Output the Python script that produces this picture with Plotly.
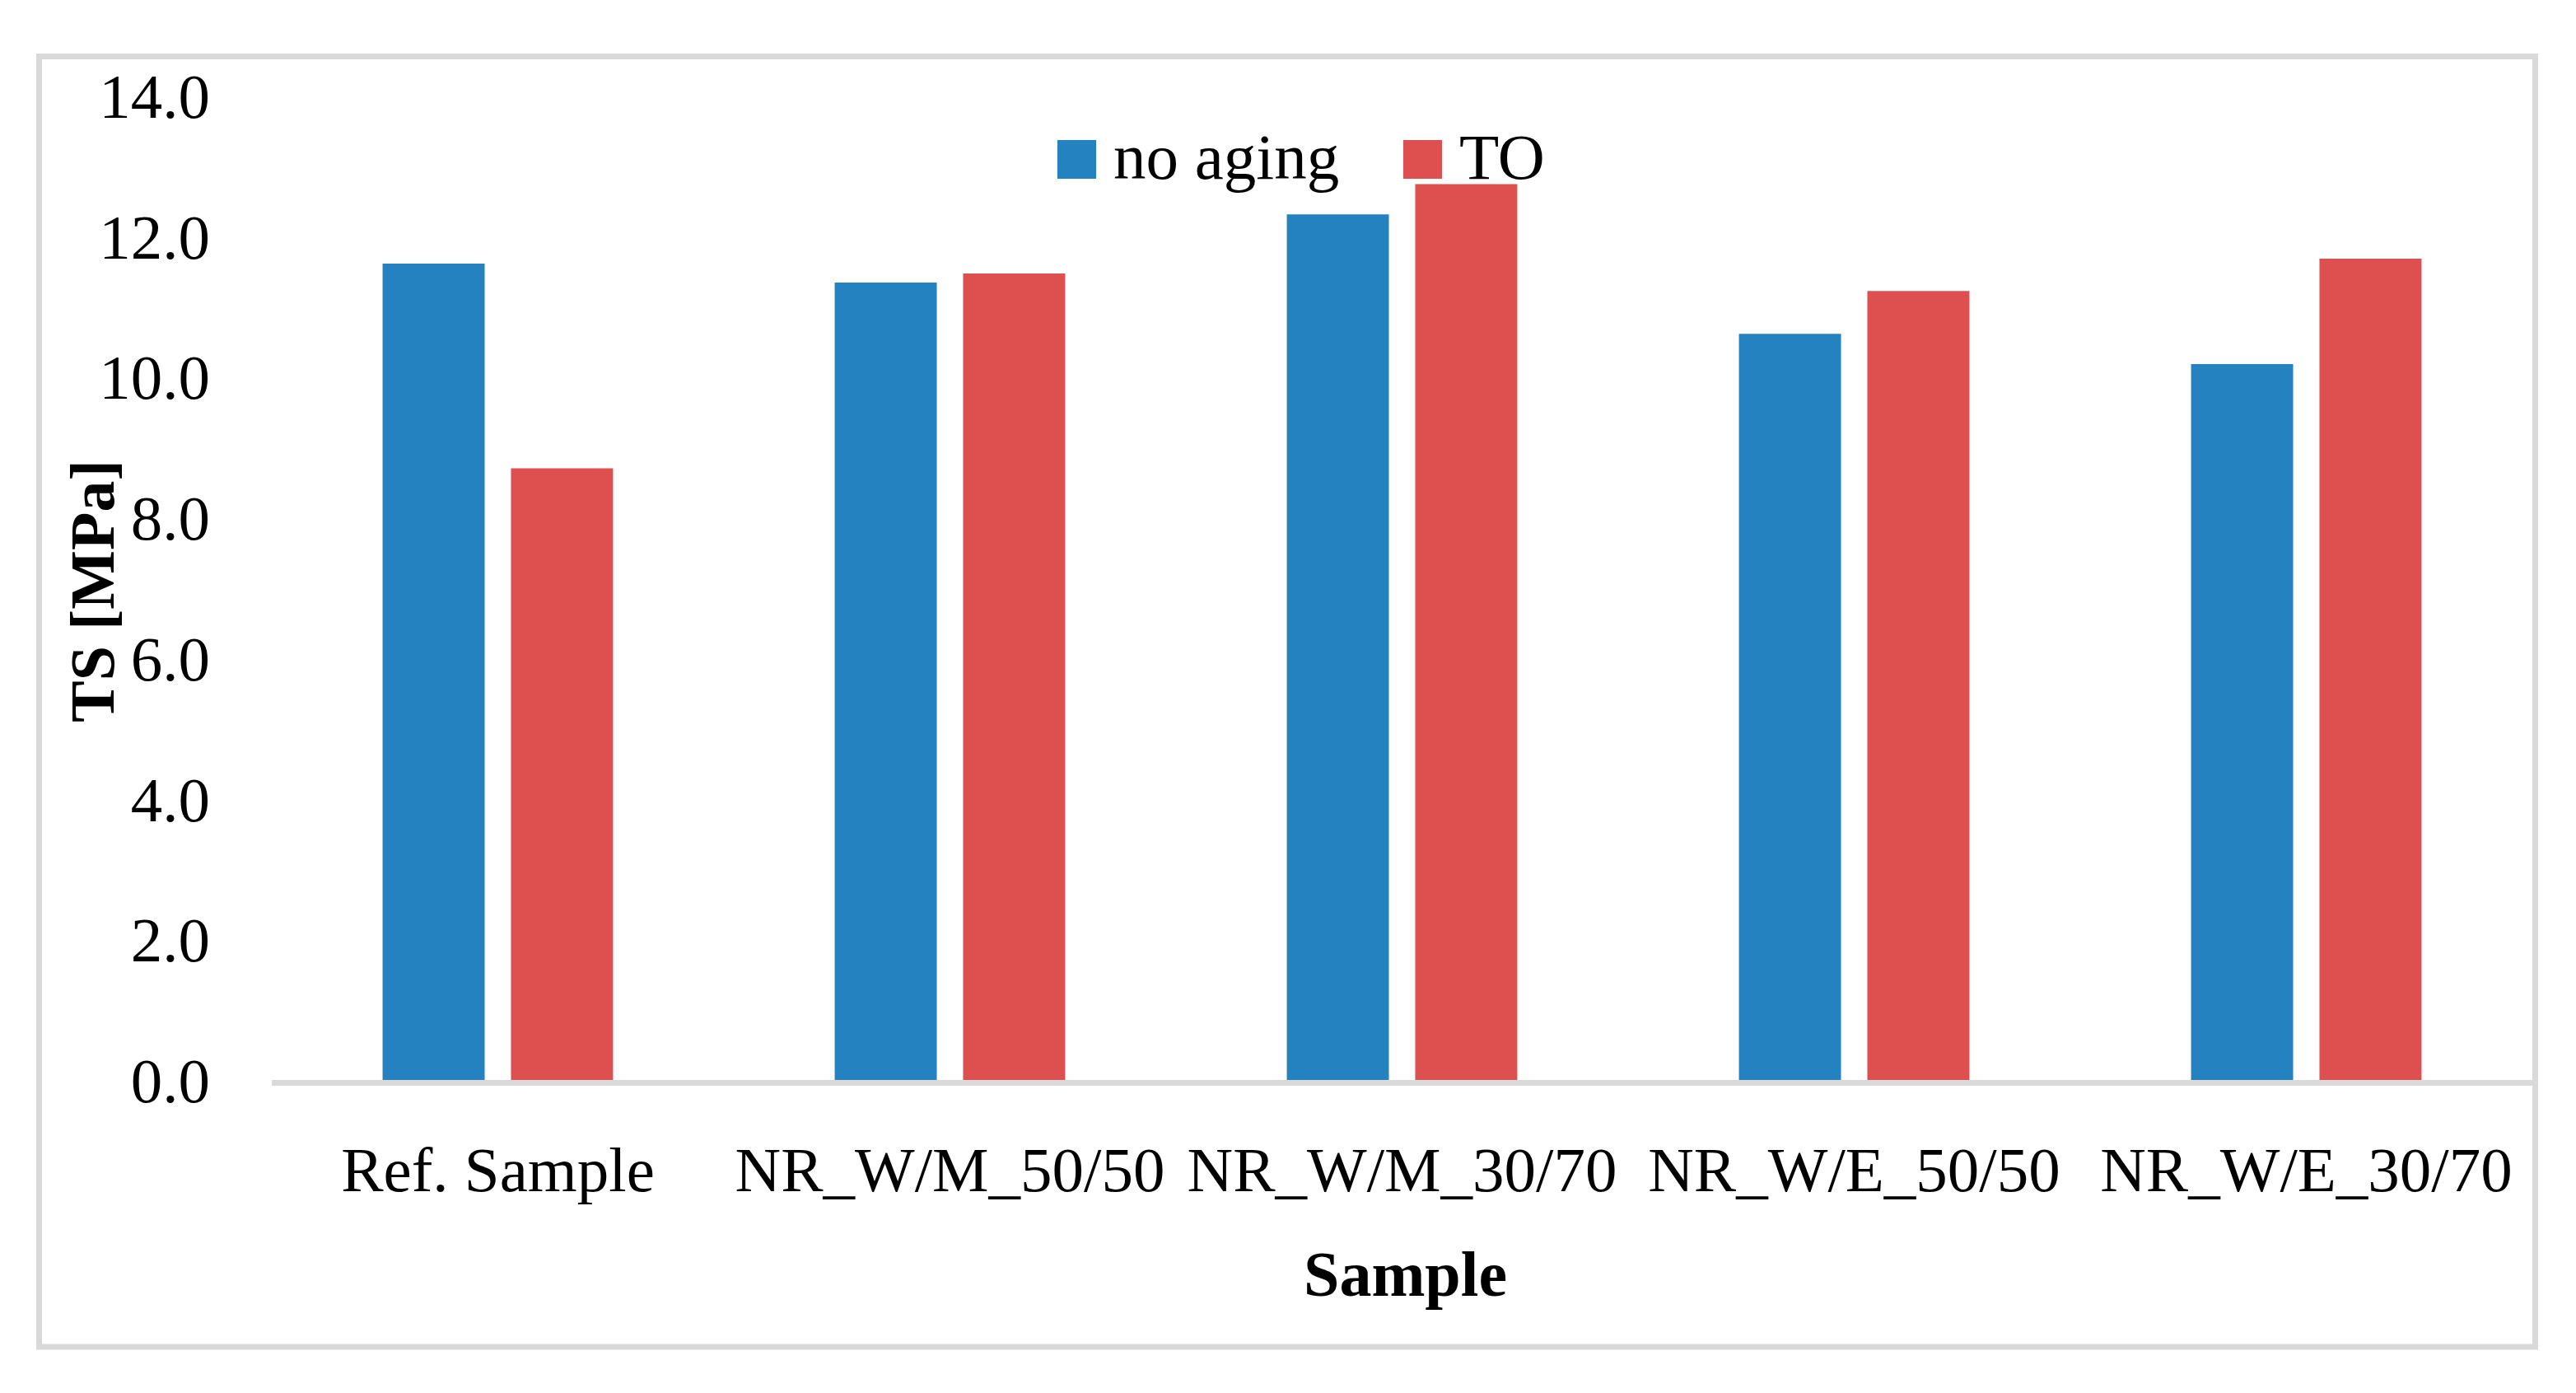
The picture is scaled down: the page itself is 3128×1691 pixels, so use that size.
import plotly.graph_objects as go

categories = ["Ref. Sample", "NR_W/M_50/50", "NR_W/M_30/70", "NR_W/E_50/50", "NR_W/E_30/70"]
no_aging = [11.61, 11.34, 12.31, 10.61, 10.18]
to_aged = [8.70, 11.47, 12.74, 11.22, 11.68]
series_names = ["no aging", "TO"]
y_ticks = [0, 2, 4, 6, 8, 10, 12, 14]
y_tick_labels = ["0.0", "2.0", "4.0", "6.0", "8.0", "10.0", "12.0", "14.0"]

BLUE = "#2482c1"
RED = "#de504f"
GRID = "#d9d9d9"
FONT = "Palatino Linotype, Book Antiqua, Liberation Serif, serif"

OFF = 8  # page offset of the figure in the browser
W, H = 3128 - 2 * OFF, 1691 - 2 * OFF
L, T = 330 - OFF, 116 - OFF
R = W - (3075 - OFF)
B = H - (1311 - OFF)
PW, PH = W - L - R, H - T - B


def xp(px):
    return (px - OFF - L) / PW


def yp(py):
    return (H - B - (py - OFF)) / PH


fig = go.Figure()
fig.add_trace(go.Bar(x=categories, y=no_aging, name=series_names[0],
                     marker=dict(color=BLUE, line=dict(width=0)), showlegend=False))
fig.add_trace(go.Bar(x=categories, y=to_aged, name=series_names[1],
                     marker=dict(color=RED, line=dict(width=0)), showlegend=False))

fig.update_layout(
    width=W, height=H,
    margin=dict(l=L, r=R, t=T, b=B),
    paper_bgcolor="white", plot_bgcolor="white",
    barmode="group", bargap=0.432, bargroupgap=0.205,
    font=dict(family=FONT, size=77, color="black"),
    showlegend=False,
)
fig.update_xaxes(
    showgrid=False, zeroline=False, showline=True, linecolor=GRID, linewidth=7,
    ticks="", tickangle=0, ticklabelstandoff=36,
    tickfont=dict(family=FONT, size=77, color="black"),
)
fig.update_yaxes(
    range=[0, 14], showgrid=False, zeroline=False, showline=False,
    tickmode="array", tickvals=y_ticks, ticktext=y_tick_labels,
    ticks="", ticklabelstandoff=74,
    tickfont=dict(family=FONT, size=77, color="black"),
)

# outer frame
fig.add_shape(type="rect", xref="paper", yref="paper",
              x0=xp(47.5), x1=xp(3078.5), y0=yp(1635), y1=yp(68.5),
              line=dict(color=GRID, width=7), fillcolor="rgba(0,0,0,0)", layer="below")

# legend swatches and labels
legend_items = [(series_names[0], BLUE, 1284, 1350), (series_names[1], RED, 1704, 1770)]
for name, col, sx, tx in legend_items:
    fig.add_shape(type="rect", xref="paper", yref="paper",
                  x0=xp(sx), x1=xp(sx + 47), y0=yp(217), y1=yp(170),
                  line=dict(width=0), fillcolor=col)
    fig.add_annotation(xref="paper", yref="paper", x=xp(tx), y=yp(190),
                       xanchor="left", yanchor="middle", showarrow=False,
                       text=name, font=dict(family=FONT, size=79, color="black"))

# axis titles
fig.add_annotation(xref="paper", yref="paper", x=xp(112), y=yp(718),
                   xanchor="center", yanchor="middle", showarrow=False, textangle=-90,
                   text="<b>TS [MPa]</b>", font=dict(family=FONT, size=76, color="black"))
fig.add_annotation(xref="paper", yref="paper", x=xp(1706), y=yp(1546),
                   xanchor="center", yanchor="middle", showarrow=False,
                   text="<b>Sample</b>", font=dict(family=FONT, size=78, color="black"))

fig.write_html("out.html")
